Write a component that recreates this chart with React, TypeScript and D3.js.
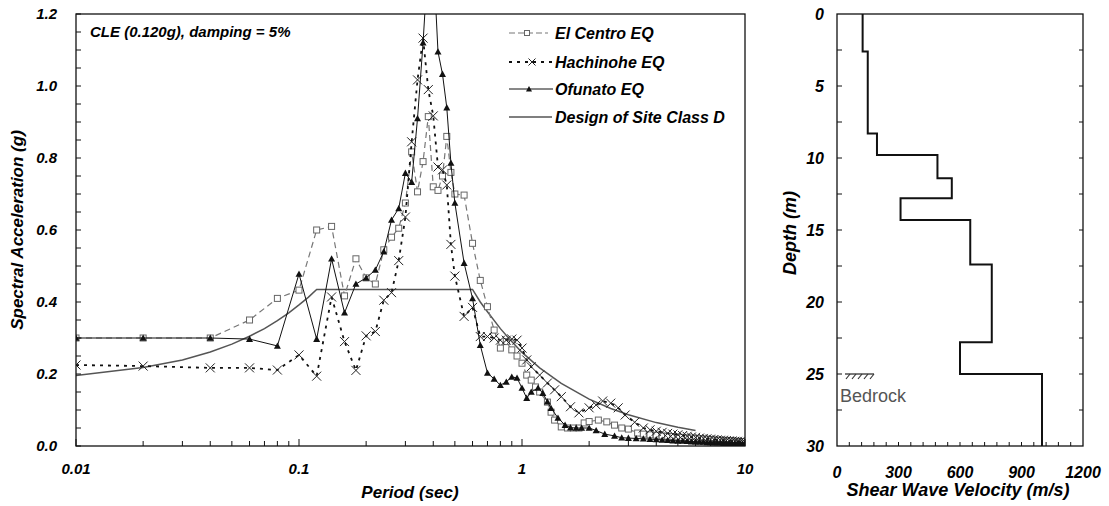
import React from 'react';
import * as d3 from 'd3';

// ---------- Data: response spectra (period in sec, spectral acceleration in g) ----------
const elCentro: [number, number][] = [
  [0.01, 0.30], [0.02, 0.30], [0.04, 0.30], [0.06, 0.35], [0.08, 0.41], [0.1, 0.433],
  [0.12, 0.60], [0.14, 0.61], [0.16, 0.417], [0.18, 0.52], [0.2, 0.467], [0.22, 0.45],
  [0.24, 0.545], [0.26, 0.58], [0.28, 0.605], [0.3, 0.675], [0.32, 0.817], [0.34, 0.706],
  [0.36, 0.79], [0.38, 0.915], [0.4, 0.72], [0.42, 0.71], [0.44, 0.75], [0.46, 0.86],
  [0.48, 0.76], [0.5, 0.70], [0.55, 0.697], [0.6, 0.563], [0.65, 0.46], [0.7, 0.387],
  [0.75, 0.322], [0.8, 0.272], [0.85, 0.29], [0.9, 0.267], [0.95, 0.25], [1.0, 0.23],
  [1.05, 0.197], [1.1, 0.183], [1.15, 0.164], [1.2, 0.15], [1.3, 0.122], [1.35, 0.094],
  [1.4, 0.072], [1.5, 0.053], [1.6, 0.05], [1.7, 0.05], [1.8, 0.05], [1.9, 0.064],
  [2.0, 0.068], [2.2, 0.072], [2.4, 0.067], [2.6, 0.058], [2.8, 0.05], [3.0, 0.047],
  [3.3, 0.036],
];
const hachinohe: [number, number][] = [
  [0.01, 0.225], [0.02, 0.222], [0.04, 0.217], [0.06, 0.217], [0.08, 0.211], [0.1, 0.253],
  [0.12, 0.194], [0.14, 0.414], [0.16, 0.29], [0.18, 0.21], [0.2, 0.306], [0.22, 0.318],
  [0.24, 0.405], [0.26, 0.426], [0.28, 0.515], [0.3, 0.636], [0.32, 0.845], [0.34, 1.017],
  [0.36, 1.133], [0.38, 0.99], [0.4, 0.917], [0.42, 0.775], [0.44, 0.767], [0.46, 0.725],
  [0.48, 0.56], [0.5, 0.472], [0.55, 0.36], [0.6, 0.385], [0.65, 0.304], [0.7, 0.304],
  [0.75, 0.30], [0.8, 0.294], [0.85, 0.294], [0.9, 0.297], [0.95, 0.294], [1.0, 0.272],
  [1.05, 0.239], [1.1, 0.22], [1.2, 0.197], [1.3, 0.175], [1.4, 0.156], [1.5, 0.137],
  [1.65, 0.109], [1.8, 0.092], [2.0, 0.106], [2.15, 0.114], [2.3, 0.125], [2.5, 0.119],
  [2.7, 0.106], [2.9, 0.086], [3.2, 0.066],
];
const ofunato: [number, number][] = [
  [0.01, 0.30], [0.02, 0.30], [0.04, 0.30], [0.06, 0.297], [0.08, 0.278], [0.1, 0.478],
  [0.12, 0.297], [0.14, 0.52], [0.16, 0.37], [0.18, 0.45], [0.2, 0.467], [0.22, 0.489],
  [0.24, 0.54], [0.26, 0.628], [0.28, 0.66], [0.3, 0.758], [0.32, 0.733], [0.34, 0.91],
  [0.36, 1.12], [0.38, 1.36], [0.4, 1.36], [0.42, 1.095], [0.44, 1.033], [0.46, 0.94],
  [0.48, 0.786], [0.5, 0.675], [0.55, 0.508], [0.6, 0.41], [0.65, 0.28], [0.7, 0.203],
  [0.75, 0.186], [0.8, 0.169], [0.85, 0.178], [0.9, 0.192], [0.95, 0.189], [1.0, 0.161],
  [1.05, 0.133], [1.1, 0.15], [1.18, 0.161], [1.24, 0.147], [1.3, 0.123], [1.35, 0.105],
  [1.45, 0.078], [1.56, 0.058], [1.65, 0.051], [1.75, 0.05], [1.85, 0.05], [2.0, 0.05],
  [2.15, 0.043], [2.35, 0.033], [2.6, 0.028], [2.8, 0.023], [3.0, 0.022], [3.25, 0.021],
];
const tailPeriods = [3.5, 3.75, 4, 4.25, 4.5, 4.75, 5, 5.25, 5.5, 5.75, 6, 6.25, 6.5, 6.75, 7, 7.25, 7.5, 7.75, 8, 8.25, 8.5, 8.75, 9, 9.25, 9.5, 9.75, 10];
const elCentroTail = [0.033, 0.031, 0.030, 0.028, 0.027, 0.026, 0.025, 0.024, 0.023, 0.022, 0.021, 0.020, 0.019, 0.019, 0.018, 0.017, 0.016, 0.016, 0.015, 0.015, 0.014, 0.014, 0.013, 0.013, 0.012, 0.012, 0.012];
const hachinoheTail = [0.05, 0.045, 0.041, 0.038, 0.035, 0.033, 0.031, 0.029, 0.027, 0.025, 0.024, 0.022, 0.021, 0.020, 0.019, 0.018, 0.017, 0.016, 0.016, 0.015, 0.014, 0.014, 0.013, 0.013, 0.012, 0.012, 0.011];
const ofunatoTail = [0.02, 0.019, 0.018, 0.017, 0.016, 0.015, 0.014, 0.014, 0.013, 0.012, 0.012, 0.011, 0.011, 0.010, 0.010, 0.009, 0.009, 0.009, 0.008, 0.008, 0.008, 0.007, 0.007, 0.007, 0.007, 0.006, 0.006];
const designSiteD: [number, number][] = [
  [0.01, 0.196], [0.02, 0.218], [0.03, 0.239], [0.04, 0.261], [0.05, 0.283], [0.06, 0.305],
  [0.07, 0.326], [0.08, 0.348], [0.09, 0.370], [0.1, 0.392], [0.11, 0.413], [0.12, 0.435],
  [0.6, 0.435], [0.65, 0.40], [0.7, 0.373], [0.8, 0.326], [0.9, 0.29], [1.0, 0.26],
  [1.2, 0.217], [1.5, 0.174], [2.0, 0.13], [2.5, 0.104], [3.0, 0.087], [4.0, 0.065],
  [5.0, 0.052], [6.0, 0.043],
];
const periodTickLabels = ['0.01', '0.1', '1', '10'];
const saTickLabels = ['0.0', '0.2', '0.4', '0.6', '0.8', '1.0', '1.2'];

// ---------- Data: shear wave velocity profile ----------
const layerTop = [0, 2.6, 8.3, 9.8, 11.4, 12.8, 14.3, 17.4, 22.8, 25];
const layerBottom = [2.6, 8.3, 9.8, 11.4, 12.8, 14.3, 17.4, 22.8, 25, 30];
const layerVs = [125, 150, 195, 490, 560, 310, 650, 755, 600, 1000];
const vsTickLabels = [0, 300, 600, 900, 1200];
const depthTickLabels = [0, 5, 10, 15, 20, 25, 30];

const FONT = "'Liberation Sans', Arial, Helvetica, sans-serif";

export default function App() {
  const x = d3.scaleLog().domain([0.01, 10]).range([76, 745]);
  const y = d3.scaleLinear().domain([0, 1.2]).range([446, 14]);
  const line = d3.line<[number, number]>().x(d => x(d[0])).y(d => y(d[1]));

  const ec: [number, number][] = [...elCentro, ...tailPeriods.map((t, i) => [t, elCentroTail[i]] as [number, number])];
  const ha: [number, number][] = [...hachinohe, ...tailPeriods.map((t, i) => [t, hachinoheTail[i]] as [number, number])];
  const of: [number, number][] = [...ofunato, ...tailPeriods.map((t, i) => [t, ofunatoTail[i]] as [number, number])];

  const xv = d3.scaleLinear().domain([0, 1200]).range([837, 1083]);
  const yd = d3.scaleLinear().domain([0, 30]).range([14, 446]);
  const profPts: [number, number][] = [];
  layerVs.forEach((v, i) => { profPts.push([v, layerTop[i]]); profPts.push([v, layerBottom[i]]); });
  const profLine = d3.line<[number, number]>().x(d => xv(d[0])).y(d => yd(d[1]));

  // x ticks (log minor)
  const xTicks: { v: number; major: boolean }[] = [];
  [0.01, 0.1, 1].forEach(dec => { for (let k = 1; k <= 9; k++) xTicks.push({ v: dec * k, major: k === 1 }); });
  xTicks.push({ v: 10, major: true });
  const yMinor = d3.range(0, 1.2001, 0.05);

  const square = (cx: number, cy: number, key: any, s = 6) => (
    <rect key={key} x={cx - s / 2} y={cy - s / 2} width={s} height={s} fill="white" stroke="#666" strokeWidth={1} />
  );
  const cross = (cx: number, cy: number, key: any, s = 4.5) => (
    <path key={key} d={`M${cx - s},${cy - s}L${cx + s},${cy + s}M${cx - s},${cy + s}L${cx + s},${cy - s}`} stroke="#222" strokeWidth={1} fill="none" />
  );
  const tri = (cx: number, cy: number, key: any, s = 3.5) => (
    <path key={key} d={`M${cx},${cy - s}L${cx + s},${cy + s * 0.8}L${cx - s},${cy + s * 0.8}Z`} fill="#111" />
  );

  const legendRows = [33, 62, 89, 117];
  const labelStyle = { fontFamily: FONT, fontWeight: 700, fontStyle: 'italic' as const };

  return (
    <svg width={1109} height={506} style={{ position: 'absolute', left: 0, top: 0, background: 'white' }}>
      <defs>
        <clipPath id="plotClip"><rect x={76} y={14} width={669} height={432} /></clipPath>
      </defs>

      {/* ===== Left chart ===== */}
      <g clipPath="url(#plotClip)">
        <path d={line(designSiteD) || ''} fill="none" stroke="#555" strokeWidth={1.5} />
        <path d={line(ec) || ''} fill="none" stroke="#777" strokeWidth={1.2} strokeDasharray="6,4" />
        {ec.map((d, i) => square(x(d[0]), y(d[1]), 'ec' + i))}
        <path d={line(ha) || ''} fill="none" stroke="#111" strokeWidth={1.8} strokeDasharray="3,5" />
        {ha.map((d, i) => cross(x(d[0]), y(d[1]), 'ha' + i))}
        <path d={line(of) || ''} fill="none" stroke="#111" strokeWidth={1} />
        {of.map((d, i) => tri(x(d[0]), y(d[1]), 'of' + i))}
      </g>
      {/* frame */}
      <rect x={76} y={14} width={669} height={432} fill="none" stroke="#111" strokeWidth={1.3} />
      {xTicks.map((t, i) => (
        <line key={'xt' + i} x1={x(t.v)} x2={x(t.v)} y1={446} y2={t.major ? 439 : 441} stroke="#111" strokeWidth={1} />
      ))}
      {yMinor.map((v, i) => (
        <line key={'yt' + i} x1={76} x2={81} y1={y(v)} y2={y(v)} stroke="#111" strokeWidth={1} />
      ))}
      {periodTickLabels.map(l => (
        <text key={'xl' + l} x={x(+l)} y={469} dy="0.35em" textAnchor="middle" fontSize={15} {...labelStyle}>{l}</text>
      ))}
      {saTickLabels.map(l => (
        <text key={'yl' + l} x={57} y={y(+l)} dy="0.35em" textAnchor="end" fontSize={15} {...labelStyle}>{l}</text>
      ))}
      <text x={410} y={492} dy="0.35em" textAnchor="middle" fontSize={17} {...labelStyle}>Period (sec)</text>
      <text transform="translate(17,230) rotate(-90)" dy="0.35em" textAnchor="middle" fontSize={17} {...labelStyle}>Spectral Acceleration (g)</text>
      <text x={90} y={32} dy="0.35em" fontSize={15} {...labelStyle}>CLE (0.120g), damping = 5%</text>

      {/* legend */}
      <g>
        <line x1={509} x2={548} y1={legendRows[0]} y2={legendRows[0]} stroke="#777" strokeWidth={1.2} strokeDasharray="6,3" />
        {square(527, legendRows[0], 'lg0', 5)}
        <line x1={509} x2={553} y1={legendRows[1]} y2={legendRows[1]} stroke="#111" strokeWidth={1.8} strokeDasharray="3,5" />
        {cross(532, legendRows[1], 'lg1', 3.5)}
        <line x1={509} x2={553} y1={legendRows[2]} y2={legendRows[2]} stroke="#111" strokeWidth={1} />
        {tri(529, legendRows[2], 'lg2', 3)}
        <line x1={509} x2={552} y1={legendRows[3]} y2={legendRows[3]} stroke="#555" strokeWidth={1.5} />
        {['El Centro EQ', 'Hachinohe EQ', 'Ofunato EQ', 'Design of Site Class D'].map((t, i) => (
          <text key={'lt' + i} x={555} y={legendRows[i]} dy="0.35em" fontSize={16} {...labelStyle}>{t}</text>
        ))}
      </g>

      {/* ===== Right chart ===== */}
      <rect x={837} y={14} width={246} height={432} fill="none" stroke="#111" strokeWidth={1.3} />
      {d3.range(60, 1200, 60).map(v => (
        <line key={'vt' + v} x1={xv(v)} x2={xv(v)} y1={446} y2={442} stroke="#111" strokeWidth={1} />
      ))}
      {d3.range(2.5, 30, 2.5).map(v => (
        <g key={'dt' + v}>
          <line x1={837} x2={842} y1={yd(v)} y2={yd(v)} stroke="#111" strokeWidth={1} />
          <line x1={1083} x2={1079} y1={yd(v)} y2={yd(v)} stroke="#111" strokeWidth={1} />
        </g>
      ))}
      <path d={profLine(profPts) || ''} fill="none" stroke="#111" strokeWidth={2} />
      {/* bedrock marker */}
      <line x1={845} x2={874} y1={yd(25)} y2={yd(25)} stroke="#333" strokeWidth={1.3} />
      {[850, 856, 862, 868, 874].map(bx => (
        <line key={'br' + bx} x1={bx} x2={bx - 4} y1={yd(25)} y2={yd(25) + 5} stroke="#333" strokeWidth={1.2} />
      ))}
      <text x={840} y={396} dy="0.35em" fontSize={18} fill="#555" fontFamily={FONT}>Bedrock</text>
      {vsTickLabels.map(v => (
        <text key={'vl' + v} x={xv(v)} y={472} dy="0.35em" textAnchor="middle" fontSize={16} {...labelStyle}>{v}</text>
      ))}
      {depthTickLabels.map(v => (
        <text key={'dl' + v} x={824} y={yd(v)} dy="0.35em" textAnchor="end" fontSize={16} {...labelStyle}>{v}</text>
      ))}
      <text x={958} y={490} dy="0.35em" textAnchor="middle" fontSize={18} {...labelStyle}>Shear Wave Velocity (m/s)</text>
      <text transform="translate(790,233) rotate(-90)" dy="0.35em" textAnchor="middle" fontSize={18} {...labelStyle}>Depth (m)</text>
    </svg>
  );
}
